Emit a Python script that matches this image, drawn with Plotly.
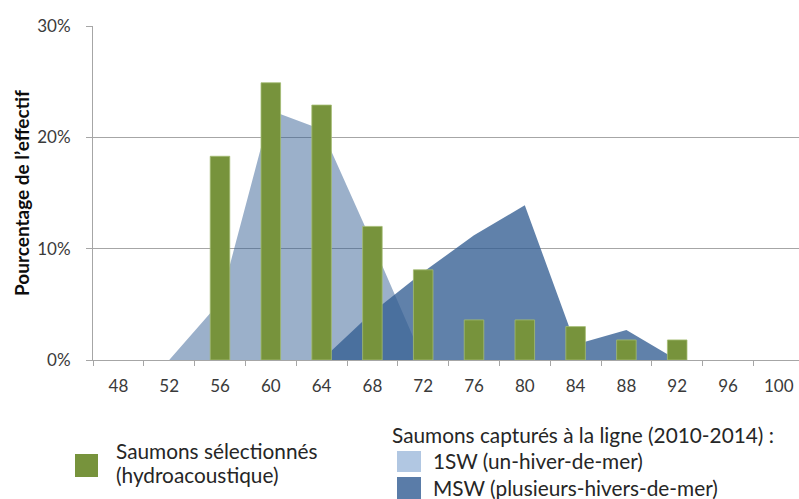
import plotly.graph_objects as go

# Fork length classes (cm)
sizes = ["48", "52", "56", "60", "64", "68", "72", "76", "80", "84", "88", "92", "96", "100"]

# Share of each group per length class (%)
selected_hydro = [None, None, 18.3, 24.9, 22.9, 12.0, 8.1, 3.6, 3.6, 3.0, 1.8, 1.8, None, None]
angled_1sw = [0, 0, 5.2, 22.4, 20.7, 10.5, 0, 0, 0, 0, 0, 0, 0, 0]
angled_msw = [0, 0, 0, 0, 0, 4.3, 7.9, 11.2, 13.9, 1.4, 2.7, 0, 0, 0]

y_ticks = [0, 10, 20, 30]
y_tick_text = ["0%", "10%", "20%", "30%"]

GREEN = "#77933c"
BLUE_1SW = "rgba(51,93,146,0.49)"
BLUE_MSW = "rgba(51,93,146,0.78)"
GRID = "#a6a6a6"
FONT = "Lato"

W, H = 799, 499
L, R, T, B = 93, 0, 26, 139
PW, PH = W - L - R, H - T - B
CAT_W = 50.8
X_RANGE = [-0.5, -0.5 + PW / CAT_W]
Y_RANGE = [0, 30]


def px(x):
    return (x - L) / PW


def py(y):
    return (H - B - y) / PH


fig = go.Figure()

# Line-caught salmon: filled areas on the base axes
fig.add_trace(go.Scatter(
    x=sizes, y=angled_1sw, mode="none", fill="tozeroy",
    fillcolor=BLUE_1SW, name="1SW (un-hiver-de-mer)", showlegend=False,
))
fig.add_trace(go.Scatter(
    x=sizes, y=angled_msw, mode="none", fill="tozeroy",
    fillcolor=BLUE_MSW, name="MSW (plusieurs-hivers-de-mer)", showlegend=False,
))
# Hydroacoustic selection: bars on an overlaid pair of axes so they sit above the areas
fig.add_trace(go.Bar(
    x=sizes, y=selected_hydro, xaxis="x2", yaxis="y2",
    marker=dict(color=GREEN, line=dict(color="#a3bb72", width=0.8)),
    name="Saumons sélectionnés (hydroacoustique)", showlegend=False,
))

# Custom legend below the plot
shapes = []
annotations = []


def swatch(x0, y0, x1, y1, color):
    shapes.append(dict(
        type="rect", xref="paper", yref="paper",
        x0=px(x0), x1=px(x1), y0=py(y1), y1=py(y0),
        fillcolor=color, line=dict(width=0), layer="above",
    ))


def label(x, y, text, size=20.8):
    annotations.append(dict(
        xref="paper", yref="paper", x=px(x), y=py(y), text=text,
        showarrow=False, xanchor="left", yanchor="middle",
        font=dict(family=FONT, size=size, color="#262626"),
    ))


swatch(75, 454, 98, 477, GREEN)
label(114, 450, "Saumons sélectionnés")
label(114, 475, "(hydroacoustique)")

label(390, 434, "Saumons capturés à la ligne (2010-2014) :")
swatch(397, 451, 421, 472, "#b1c7e2")
label(431, 461, "1SW (un-hiver-de-mer)")
swatch(397, 477, 421, 499, "#5a7ca8")
label(431, 488, "MSW (plusieurs-hivers-de-mer)")

# Y axis title
annotations.append(dict(
    xref="paper", yref="paper", x=0, xshift=21 - L, y=0.5,
    text="<b>Pourcentage de l’effectif</b>", textangle=-90, showarrow=False,
    xanchor="center", yanchor="middle",
    font=dict(family=FONT, size=19, color="#0d0d0d"),
))

fig.update_layout(
    width=W, height=H,
    margin=dict(l=L, r=R, t=T, b=B, pad=0),
    paper_bgcolor="white", plot_bgcolor="white",
    bargap=0.615,
    shapes=shapes, annotations=annotations,
    font=dict(family=FONT),
    xaxis=dict(
        type="category", range=X_RANGE,
        categoryorder="array", categoryarray=sizes,
        tickson="boundaries", ticks="outside", ticklen=5, tickcolor=GRID,
        showline=True, linecolor=GRID, linewidth=1, showgrid=False,
        tickfont=dict(family=FONT, size=17, color="#3a3a3a"),
        ticklabelstandoff=11,
    ),
    yaxis=dict(
        range=Y_RANGE, tickvals=y_ticks, ticktext=y_tick_text,
        ticks="outside", ticklen=6, tickcolor=GRID,
        showline=True, linecolor=GRID, linewidth=1,
        showgrid=True, gridcolor=GRID, gridwidth=1, zeroline=False,
        tickfont=dict(family=FONT, size=17, color="#3a3a3a"),
        ticklabelstandoff=12,
    ),
    xaxis2=dict(type="category", overlaying="x", range=X_RANGE, visible=False,
                categoryorder="array", categoryarray=sizes),
    yaxis2=dict(overlaying="y", range=Y_RANGE, visible=False),
)

fig.write_html("out.html")
